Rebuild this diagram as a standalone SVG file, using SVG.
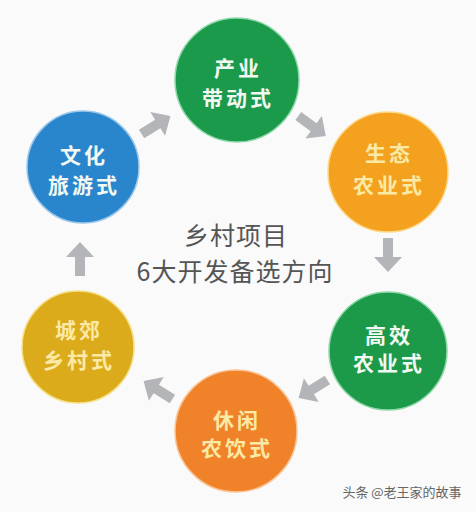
<svg xmlns="http://www.w3.org/2000/svg" width="476" height="512" viewBox="0 0 476 512">
<defs>
<style>
.lbl{font-family:"Noto Sans CJK SC","Noto Sans",sans-serif;font-size:21px;font-weight:bold;text-anchor:middle;letter-spacing:3px}
.w{fill:#f2f8f2}
.y{fill:#fbe9a6}
.ctr{font-family:"Noto Sans CJK SC","Noto Sans",sans-serif;font-size:25px;fill:#555;text-anchor:middle;letter-spacing:1px}
.arr{fill:#b3b5b8}
</style>
<path id="ar" d="M-17,-5 L2,-5 L2,-14 L17,0 L2,14 L2,5 L-17,5 Z"/>
</defs>
<rect width="476" height="512" fill="#fafafa"/>
<g id="connectors" class="arr">
<use href="#ar" transform="translate(156,125) rotate(-32)"/>
<use href="#ar" transform="translate(312,126) rotate(36)"/>
<use href="#ar" transform="translate(388,255) rotate(90)"/>
<use href="#ar" transform="translate(313,389) rotate(148)"/>
<use href="#ar" transform="translate(158,390) rotate(212)"/>
<use href="#ar" transform="translate(80,259) rotate(-90)"/>
</g>
<g id="n1">
<circle cx="237" cy="80" r="62" fill="#1b9a4b" stroke="#8ed8a8" stroke-width="1.5"/>
<text class="lbl w" x="238" y="76">产业</text>
<text class="lbl w" x="238" y="106">带动式</text>
</g>
<g id="n2">
<circle cx="388" cy="172" r="60" fill="#f4a11f" stroke="#fcd98a" stroke-width="1.5"/>
<text class="lbl y" x="389" y="161">生态</text>
<text class="lbl y" x="389" y="193">农业式</text>
</g>
<g id="n3">
<circle cx="388" cy="351" r="59" fill="#1c9a49" stroke="#8ed8a8" stroke-width="1.5"/>
<text class="lbl w" x="389" y="343">高效</text>
<text class="lbl w" x="389" y="371">农业式</text>
</g>
<g id="n4">
<circle cx="236" cy="431" r="61" fill="#f0832a" stroke="#fbc69a" stroke-width="1.5"/>
<text class="lbl y" x="237" y="428">休闲</text>
<text class="lbl y" x="237" y="456">农饮式</text>
</g>
<g id="n5">
<circle cx="78" cy="347" r="56" fill="#dcab1c" stroke="#f5e08a" stroke-width="1.5"/>
<text class="lbl y" x="79" y="338">城郊</text>
<text class="lbl y" x="79" y="368">乡村式</text>
</g>
<g id="n6">
<circle cx="83" cy="167" r="56" fill="#2a86cc" stroke="#9cc8ea" stroke-width="1.5"/>
<text class="lbl w" x="84" y="163">文化</text>
<text class="lbl w" x="84" y="193">旅游式</text>
</g>
<g id="center">
<text class="ctr" x="236" y="245">乡村项目</text>
<text class="ctr" x="235" y="281">6大开发备选方向</text>
</g>
<text x="402" y="497" font-family="Noto Sans CJK SC, Noto Sans, sans-serif" font-size="13" fill="#666" text-anchor="middle">头条 @老王家的故事</text>
</svg>
